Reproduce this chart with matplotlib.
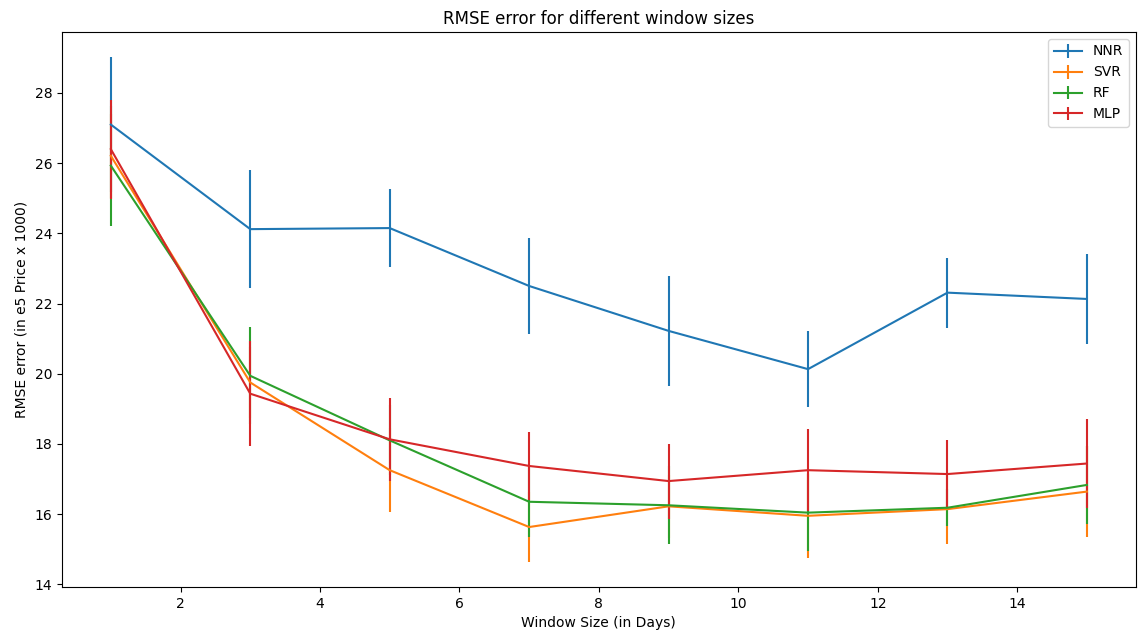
import matplotlib
matplotlib.use("Agg")
import matplotlib.pyplot as plt

window_sizes = [1, 3, 5, 7, 9, 11, 13, 15]

nnr_mean = [27.10, 24.12, 24.15, 22.50, 21.22, 20.13, 22.31, 22.13]
nnr_err = [1.92, 1.68, 1.10, 1.38, 1.57, 1.09, 1.00, 1.28]

svr_mean = [26.21, 19.75, 17.25, 15.63, 16.22, 15.95, 16.14, 16.64]
svr_err = [1.20, 1.00, 1.19, 0.99, 0.90, 1.21, 1.00, 1.29]

rf_mean = [25.93, 19.94, 18.10, 16.35, 16.25, 16.04, 16.18, 16.83]
rf_err = [1.71, 1.38, 1.00, 1.00, 1.11, 1.09, 0.52, 1.10]

mlp_mean = [26.40, 19.43, 18.13, 17.37, 16.94, 17.25, 17.14, 17.44]
mlp_err = [1.41, 1.49, 1.19, 0.98, 1.07, 1.17, 0.97, 1.26]

labels = ["NNR", "SVR", "RF", "MLP"]

fig = plt.figure(figsize=(11.38, 6.37), dpi=100)
ax = fig.add_axes([0.0545, 0.0785, 0.9435, 0.8713])

for mean, err, lab in [(nnr_mean, nnr_err, labels[0]),
                       (svr_mean, svr_err, labels[1]),
                       (rf_mean, rf_err, labels[2]),
                       (mlp_mean, mlp_err, labels[3])]:
    ax.errorbar(window_sizes, mean, yerr=err, label=lab, linewidth=1.5)

ax.set_title("RMSE error for different window sizes")
ax.set_xlabel("Window Size (in Days)")
ax.set_ylabel("RMSE error (in e5 Price x 1000)")
ax.legend(loc="upper right")

fig.savefig("out.png", dpi=100)
